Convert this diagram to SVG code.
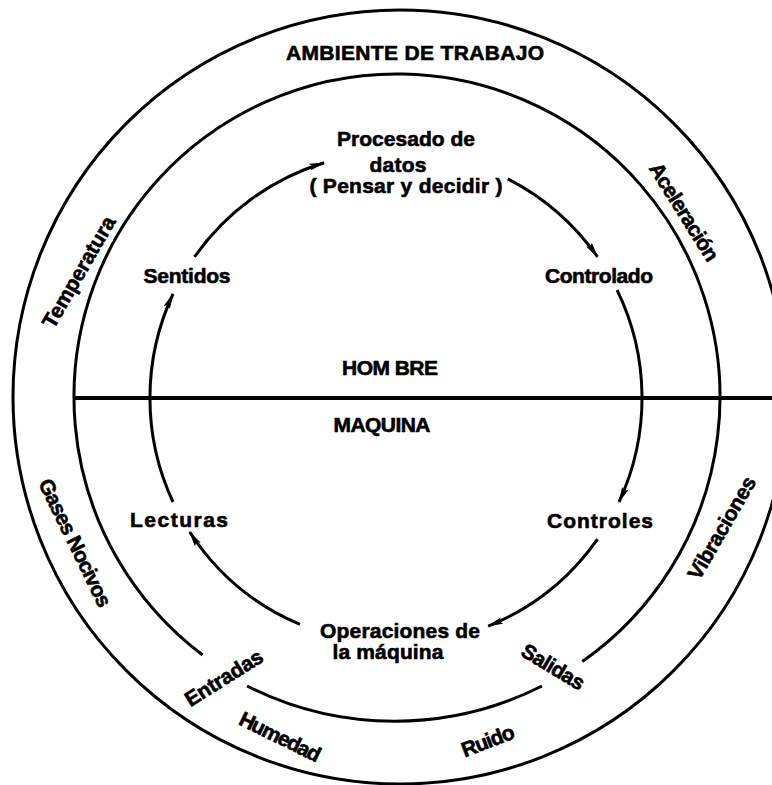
<svg xmlns="http://www.w3.org/2000/svg" width="772" height="785" viewBox="0 0 772 785">
<style>
  .ln { fill: none; stroke: #000; stroke-width: 3; }
  .hl { fill: none; stroke: #000; stroke-width: 4; }
  .ar { fill: none; stroke: #000; stroke-width: 3; marker-end: url(#ah); }
  text { font-family: "Liberation Sans", Arial, sans-serif; font-weight: bold; font-size: 21px; fill: #000; stroke: #000; stroke-width: 0.6; }
  .c { text-anchor: middle; }
</style>
<defs>
  <marker id="ah" markerUnits="userSpaceOnUse" viewBox="0 0 16 7" refX="15" refY="3.5" markerWidth="16" markerHeight="7" orient="auto">
    <path d="M0,0 L16,3.5 L0,7 L3,3.5 Z" fill="#000"/>
  </marker>
</defs>
<rect width="772" height="785" fill="#fff"/>

<g id="rings">
  <circle id="outer" class="ln" cx="400" cy="397" r="387"/>
  <path id="middle" class="ln" d="M202.6,655 A323,323 0 1 1 582.3,661.6"/>
  <path id="middle-bottom" class="ln" d="M247,686 A326,326 0 0 0 542,686"/>
  <line id="divider" class="hl" x1="75" y1="398" x2="772" y2="398"/>
</g>

<g id="connectors">
  <path class="ar" d="M194.5,256.9 A246,246 0 0 1 324.1,162.7"/>
  <path class="ar" d="M507.7,178.8 A246,246 0 0 1 597.5,256.9"/>
  <path class="ar" d="M617.1,290.2 A246,246 0 0 1 619,502"/>
  <path class="ar" d="M597.5,539.1 A246,246 0 0 1 488.2,626.1"/>
  <path class="ar" d="M299.9,624.4 A246,246 0 0 1 189.7,532"/>
  <path class="ar" d="M173,502 A246,246 0 0 1 173,294"/>
</g>

<g id="ambiente"><text class="c" x="415" y="60" textLength="258">AMBIENTE DE TRABAJO</text></g>
<g id="procesado">
  <text class="c" x="406" y="146" textLength="138">Procesado de</text>
  <text class="c" x="398" y="172" textLength="57">datos</text>
  <text class="c" x="406" y="193" textLength="193">( Pensar y decidir )</text>
</g>
<g id="sentidos"><text class="c" x="187" y="283" textLength="87">Sentidos</text></g>
<g id="controlado"><text class="c" x="599" y="283" textLength="108">Controlado</text></g>
<g id="hombre"><text class="c" x="390" y="375" textLength="96">HOM BRE</text></g>
<g id="maquina"><text class="c" x="382" y="432" textLength="97">MAQUINA</text></g>
<g id="lecturas"><text class="c" x="179" y="527" textLength="98">Lecturas</text></g>
<g id="controles"><text class="c" x="600" y="528" textLength="106">Controles</text></g>
<g id="operaciones">
  <text class="c" x="400" y="638" textLength="160">Operaciones de</text>
  <text class="c" x="388" y="659" textLength="111">la máquina</text>
</g>

<g id="temperatura"><text class="c" x="79" y="279" textLength="125" transform="rotate(-60 79 272)">Temperatura</text></g>
<g id="aceleracion"><text class="c" x="684" y="219" textLength="112" transform="rotate(58 684 212)">Aceleración</text></g>
<g id="gases"><text class="c" x="75" y="550" textLength="140" transform="rotate(64 75 543)">Gases Nocivos</text></g>
<g id="vibraciones"><text class="c" x="722" y="535" textLength="115" transform="rotate(-60 722 528)">Vibraciones</text></g>
<g id="humedad"><text class="c" x="280" y="744" textLength="88" transform="rotate(26 280 737)">Humedad</text></g>
<g id="ruido"><text class="c" x="488" y="748" textLength="55" transform="rotate(-21 488 741)">Ruido</text></g>
<g id="entradas"><text class="c" x="224" y="685" textLength="88" transform="rotate(-32 224 678)">Entradas</text></g>
<g id="salidas"><text class="c" x="553" y="674" textLength="70" transform="rotate(31 553 667)">Salidas</text></g>
</svg>
